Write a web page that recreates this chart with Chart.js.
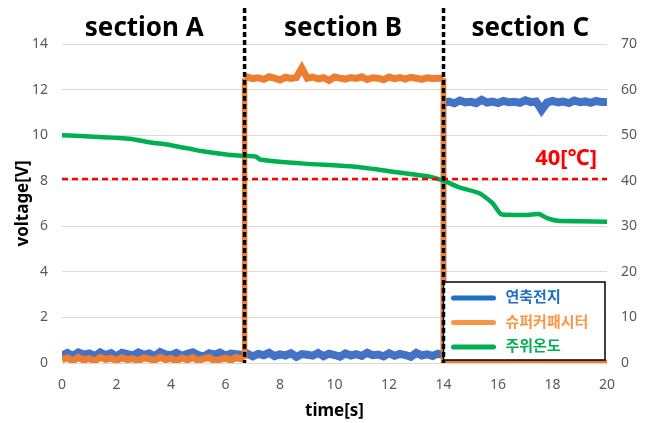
<!DOCTYPE html>
<html lang="ko">
<head>
<meta charset="UTF-8">
<title>Voltage and ambient temperature by section</title>
<script src="https://cdn.jsdelivr.net/npm/chart.js"></script>
<style>
  html, body { margin: 0; padding: 0; background: #fff; }
  #wrap { width: 652px; height: 423px; position: relative; }
</style>
</head>
<body>
<div id="wrap"><canvas id="chart"></canvas></div>
<script>
// labels
const seriesNames = ['연축전지', '슈퍼커패시터', '주위온도'];
const sectionNames = ['section A', 'section B', 'section C'];
const sectionBounds = [6.7, 14];
const limitTemp = 40.4;
const limitLabel = '40[℃]';

// tick labels
const xTicks = [0, 2, 4, 6, 8, 10, 12, 14, 16, 18, 20];
const voltTicks = [0, 2, 4, 6, 8, 10, 12, 14];
const tempTicks = [0, 10, 20, 30, 40, 50, 60, 70];

// lead-acid battery [V]
const batteryTime = [
  0,0.2,0.4,0.6,0.8,1,1.2,1.4,1.6,1.8,
  2,2.2,2.4,2.6,2.8,3,3.2,3.4,3.6,3.8,
  4,4.2,4.4,4.6,4.8,5,5.2,5.4,5.6,5.8,
  6,6.2,6.4,6.6,6.8,7,7.2,7.4,7.6,7.8,
  8,8.2,8.4,8.6,8.8,9,9.2,9.4,9.6,9.8,
  10,10.2,10.4,10.6,10.8,11,11.2,11.4,11.6,11.8,
  12,12.2,12.4,12.6,12.8,13,13.2,13.4,13.6,13.8,
  14,
  14,14.2,14.4,14.6,14.8,15,15.2,15.4,15.6,15.8,
  16,16.2,16.4,16.6,16.8,17,17.2,17.4,17.6,17.8,
  18,18.2,18.4,18.6,18.8,19,19.2,19.4,19.6,19.8,
  20
];
const batteryVolt = [
  0.34,0.44,0.31,0.46,0.37,0.42,0.3,0.47,0.35,0.43,
  0.29,0.45,0.39,0.33,0.46,0.36,0.42,0.3,0.48,0.38,
  0.34,0.44,0.32,0.4,0.47,0.35,0.29,0.43,0.37,0.46,
  0.33,0.41,0.39,0.35,0.42,0.29,0.4,0.34,0.45,0.3,
  0.38,0.33,0.43,0.27,0.39,0.36,0.32,0.44,0.3,0.41,
  0.35,0.28,0.42,0.33,0.39,0.31,0.45,0.34,0.37,0.29,
  0.43,0.32,0.4,0.35,0.27,0.44,0.33,0.38,0.31,0.41,
  0.35,
  11.42,11.47,11.4,11.52,11.44,11.46,11.4,11.55,11.43,11.47,
  11.41,11.5,11.44,11.46,11.42,11.53,11.45,11.48,11.1,11.43,
  11.5,11.44,11.47,11.41,11.52,11.45,11.48,11.42,11.5,11.45,
  11.46
];

// supercapacitor [V]
const supercapTime = [
  0,0.2,0.4,0.6,0.8,1,1.2,1.4,1.6,1.8,
  2,2.2,2.4,2.6,2.8,3,3.2,3.4,3.6,3.8,
  4,4.2,4.4,4.6,4.8,5,5.2,5.4,5.6,5.8,
  6,6.2,6.4,6.6,
  6.7,6.7,
  6.8,7,7.2,7.4,7.6,7.8,8,8.2,8.4,8.6,
  8.8,9,9.2,9.4,9.6,9.8,10,10.2,10.4,10.6,
  10.8,11,11.2,11.4,11.6,11.8,12,12.2,12.4,12.6,
  12.8,13,13.2,13.4,13.6,13.8,
  14,14,20
];
const supercapVolt = [
  0.15,0.22,0.1,0.24,0.13,0.2,0.09,0.25,0.16,0.21,
  0.11,0.23,0.15,0.19,0.1,0.22,0.18,0.12,0.25,0.15,
  0.2,0.09,0.22,0.14,0.24,0.11,0.19,0.23,0.1,0.16,
  0.21,0.13,0.24,0.18,
  0.18,12.5,
  12.55,12.48,12.52,12.45,12.56,12.5,12.42,12.54,12.49,12.53,
  12.95,12.5,12.55,12.47,12.52,12.4,12.55,12.5,12.46,12.53,
  12.49,12.56,12.44,12.52,12.5,12.43,12.55,12.48,12.53,12.46,
  12.54,12.5,12.45,12.52,12.49,12.5,
  12.5,0,0
];

// ambient temperature [C]
const tempTime = [0,1,2,2.5,3.2,4,4.7,5.1,6.1,6.6,7.1,7.3,8.9,10.6,12,13,13.5,14,14.6,15.3,15.8,16.1,16.5,17.1,17.5,17.8,18.2,19,20];
const tempC    = [50,49.7,49.4,49.2,48.45,47.8,47.0,46.5,45.7,45.5,45.3,44.6,43.75,43.15,42.1,41.3,40.9,40.0,38.5,37.3,35.1,32.7,32.5,32.5,32.7,31.8,31.2,31.1,31.0];

const fontFamily = '"Noto Sans", "Noto Sans CJK KR", sans-serif';
const colors = { battery: '#4472c4', supercap: '#ed7d31', temp: '#00b050' };
const legendColors = ['#1f6fc5', '#f79646', '#00b050'];

function pairs(xs, ys) {
  return xs.map((t, i) => ({ x: t, y: ys[i] }));
}

function fixTicks(list) {
  return scale => { scale.ticks = list.map(v => ({ value: v })); };
}

// the jumps between sections are drawn thinner
const thinJumps = {
  borderWidth: c => (c.p0.parsed.x === c.p1.parsed.x ? 5.5 : undefined)
};

// section labels, limit line, legend box, section dividers
const overlay = {
  id: 'overlay',
  afterDatasetsDraw(chart) {
    const { ctx, chartArea: a, scales: { x, y2 } } = chart;
    ctx.save();

    // 40 degree line
    const ly = y2.getPixelForValue(limitTemp);
    ctx.strokeStyle = '#ff0000';
    ctx.lineWidth = 2.5;
    ctx.setLineDash([6, 4]);
    ctx.beginPath();
    ctx.moveTo(a.left, ly);
    ctx.lineTo(a.right, ly);
    ctx.stroke();
    ctx.setLineDash([]);

    ctx.fillStyle = '#ff0000';
    ctx.font = 'bold 22px ' + fontFamily;
    ctx.textAlign = 'right';
    ctx.textBaseline = 'middle';
    ctx.fillText(limitLabel, a.right - 10, ly - 20);

    // legend
    const lx = x.getPixelForValue(sectionBounds[1]);
    const lr = a.right - 2, lt = a.bottom - 81, lb = a.bottom - 3;
    ctx.fillStyle = '#fff';
    ctx.fillRect(lx, lt, lr - lx, lb - lt);
    ctx.strokeStyle = '#000';
    ctx.lineWidth = 1.5;
    ctx.strokeRect(lx, lt, lr - lx, lb - lt);
    ctx.font = 'bold 15px ' + fontFamily;
    ctx.textAlign = 'left';
    ctx.lineCap = 'round';
    seriesNames.forEach((name, i) => {
      const ry = lt + 16 + i * 24.5;
      ctx.strokeStyle = legendColors[i];
      ctx.lineWidth = 5;
      ctx.beginPath();
      ctx.moveTo(lx + 10, ry);
      ctx.lineTo(lx + 50, ry);
      ctx.stroke();
      ctx.fillStyle = legendColors[i];
      ctx.fillText(name, lx + 62, ry);
    });
    ctx.lineCap = 'butt';

    // section dividers
    ctx.strokeStyle = '#000';
    ctx.lineWidth = 3.5;
    ctx.setLineDash([5, 3]);
    sectionBounds.forEach(b => {
      const px = x.getPixelForValue(b);
      ctx.beginPath();
      ctx.moveTo(px, 8);
      ctx.lineTo(px, a.bottom);
      ctx.stroke();
    });
    ctx.setLineDash([]);

    // section titles
    const edges = [x.min, ...sectionBounds, x.max];
    const nudge = [-9, -1, 5];
    ctx.fillStyle = '#000';
    ctx.font = 'bold 26px ' + fontFamily;
    ctx.textAlign = 'center';
    sectionNames.forEach((name, i) => {
      const cx = (x.getPixelForValue(edges[i]) + x.getPixelForValue(edges[i + 1])) / 2 + nudge[i];
      ctx.fillText(name, cx, 29);
    });

    ctx.restore();
  }
};

new Chart(document.getElementById('chart'), {
  type: 'line',
  data: {
    datasets: [
      {
        label: seriesNames[2],
        data: pairs(tempTime, tempC),
        yAxisID: 'y2',
        borderColor: colors.temp,
        borderWidth: 4.5,
        pointRadius: 0,
        tension: 0.2,
        order: 0
      },
      {
        label: seriesNames[1],
        data: pairs(supercapTime, supercapVolt),
        yAxisID: 'y',
        borderColor: colors.supercap,
        borderWidth: 7,
        pointRadius: 0,
        segment: thinJumps,
        order: 1
      },
      {
        label: seriesNames[0],
        data: pairs(batteryTime, batteryVolt),
        yAxisID: 'y',
        borderColor: colors.battery,
        borderWidth: 8,
        pointRadius: 0,
        segment: thinJumps,
        order: 2
      }
    ]
  },
  options: {
    responsive: true,
    maintainAspectRatio: false,
    animation: false,
    layout: { padding: { top: 44, left: 0, right: 0, bottom: 0 } },
    plugins: {
      legend: { display: false },
      tooltip: { enabled: false }
    },
    scales: {
      x: {
        type: 'linear',
        min: 0,
        max: 20,
        afterBuildTicks: fixTicks(xTicks),
        afterFit: s => { s.height = 60; },
        grid: { display: false, drawTicks: false },
        border: { display: false },
        ticks: { color: '#595959', padding: 14, font: { family: fontFamily, size: 14 } },
        title: {
          display: true,
          text: 'time[s]',
          color: '#000',
          padding: { top: 0, bottom: 2 },
          font: { family: fontFamily, size: 17, weight: 'bold' }
        }
      },
      y: {
        position: 'left',
        min: 0,
        max: 14,
        afterBuildTicks: fixTicks(voltTicks),
        afterFit: s => { s.width = 62; },
        grid: { color: '#d9d9d9', drawTicks: false },
        border: { display: false },
        ticks: { color: '#595959', padding: 14, font: { family: fontFamily, size: 14 } },
        title: {
          display: true,
          text: 'voltage[V]',
          color: '#000',
          padding: { top: 13, bottom: 0 },
          font: { family: fontFamily, size: 17, weight: 'bold' }
        }
      },
      y2: {
        position: 'right',
        min: 0,
        max: 70,
        afterBuildTicks: fixTicks(tempTicks),
        afterFit: s => { s.width = 45; },
        grid: { display: false, drawTicks: false },
        border: { display: false },
        ticks: { color: '#595959', padding: 14, font: { family: fontFamily, size: 14 } }
      }
    }
  },
  plugins: [overlay]
});
</script>
</body>
</html>
